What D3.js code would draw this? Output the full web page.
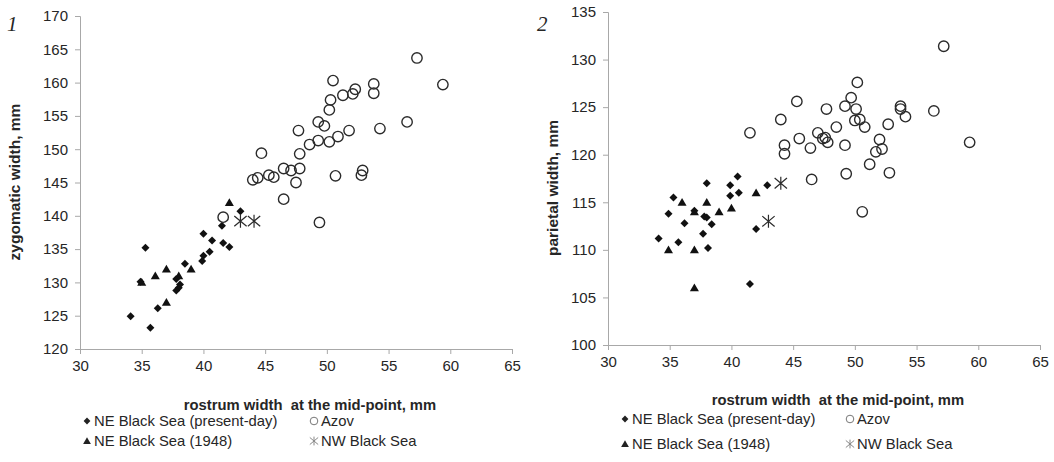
<!DOCTYPE html>
<meta charset="utf-8">
<title>Rostrum width scatter</title>
<style>
  body { margin: 0; background: #fff; }
  svg text { font-family: "Liberation Sans", Arial, sans-serif; fill: #262626; }
  .axis path, .axis line { stroke: #a8a8a8; }
  .num { font-family: "Liberation Serif", "Times New Roman", serif !important; font-style: italic; }
</style>
<svg id="chart"></svg>
<script src="https://cdn.jsdelivr.net/npm/d3@7"></script>
<script>
  var W = 1054, H = 462;

  // panel 1 : zygomatic width vs rostrum width
  var zygPresent = [[34.1,124.9],[35.7,123.2],[35.3,135.2],[36.3,126.1],[34.9,130.1],[37.8,130.5],[38.1,129.7],
    [38.0,129.2],[37.8,128.8],[38.5,132.8],[40.0,137.3],[40.0,134.0],[39.9,133.2],[40.5,134.6],[40.7,136.3],
    [41.6,135.9],[42.1,135.3],[41.5,138.5],[43.0,140.7]];
  var zyg1948 = [[35.0,130.0],[36.1,131.0],[37.0,132.0],[39.0,132.0],[38.0,131.0],[37.0,127.0],[42.1,142.0]];
  var zygAzov = [[41.6,139.8],[44.7,149.4],[44.0,145.4],[44.4,145.7],[45.3,146.1],[45.7,145.8],[57.3,163.7],
    [50.5,160.3],[59.4,159.7],[53.8,159.8],[52.3,159.0],[53.8,158.4],[52.1,158.3],[51.3,158.1],[50.3,157.4],
    [50.2,155.9],[49.3,154.1],[49.8,153.5],[47.7,152.8],[51.8,152.8],[54.3,153.1],[56.5,154.1],[50.9,151.9],
    [50.2,151.1],[49.3,151.3],[48.6,150.7],[47.8,149.3],[46.5,147.1],[47.1,146.8],[47.8,147.1],[47.5,145.0],
    [50.7,146.0],[52.9,146.8],[52.8,146.1],[46.5,142.5],[49.4,139.0]];
  var zygNW = [[43.0,139.2],[44.1,139.2]];

  // panel 2 : parietal width vs rostrum width
  var parPresent = [[34.1,111.2],[34.9,113.8],[35.3,115.5],[35.7,110.8],[36.2,112.8],[38.0,117.0],[37.7,111.7],
    [37.8,113.5],[38.0,113.4],[38.4,112.7],[38.1,110.2],[39.9,116.8],[39.9,115.7],[40.5,117.7],[40.6,116.0],
    [42.0,112.2],[42.9,116.8],[41.5,106.4],[37.0,114.1]];
  var par1948 = [[34.9,110.0],[36.0,115.0],[37.0,114.0],[37.0,110.0],[37.0,106.0],[38.0,115.0],[39.0,114.0],
    [40.0,114.4],[42.0,116.0]];
  var parAzov = [[44.0,123.7],[41.5,122.3],[44.3,121.0],[44.3,120.1],[57.2,131.4],[50.2,127.6],[45.3,125.6],
    [49.7,126.0],[49.2,125.1],[47.7,124.8],[50.1,124.8],[53.7,125.1],[53.7,124.8],[56.4,124.6],[54.1,124.0],
    [50.0,123.6],[50.4,123.7],[50.8,122.9],[52.7,123.2],[48.5,122.9],[47.0,122.3],[47.4,121.7],[47.6,121.8],
    [47.8,121.3],[45.5,121.7],[46.4,120.7],[49.2,121.0],[52.0,121.6],[52.2,120.6],[51.7,120.3],[51.2,119.0],
    [46.5,117.4],[49.3,118.0],[52.8,118.1],[59.3,121.3],[50.6,114.0]];
  var parNW = [[44.0,117.0],[43.0,113.0]];

  var xTicks = [30, 35, 40, 45, 50, 55, 60, 65];
  var zygTicks = [120, 125, 130, 135, 140, 145, 150, 155, 160, 165, 170];
  var parTicks = [100, 105, 110, 115, 120, 125, 130, 135];
  var seriesNames = ["NE Black Sea (present-day)", "Azov", "NE Black Sea (1948)", "NW Black Sea"];
  var xTitle = "rostrum width\u00a0 at the mid-point, mm";

  var svg = d3.select("#chart").attr("width", W).attr("height", H);

  // marker shapes
  function diamond(r) { return "M0," + (-r) + "L" + r + ",0L0," + r + "L" + (-r) + ",0Z"; }
  function triangle(r) { return "M0," + (-r) + "L" + (r * 1.05) + "," + (r * 0.8) + "L" + (-r * 1.05) + "," + (r * 0.8) + "Z"; }
  function asterisk(r) {
    var a = r * 0.95, b = r * 0.8;
    return "M0," + (-r) + "L0," + r + "M" + (-a) + "," + (-b) + "L" + a + "," + b + "M" + (-a) + "," + b + "L" + a + "," + (-b);
  }

  function drawMarks(g, data, x, y, kind) {
    var sel = g.append("g").selectAll("path").data(data).enter();
    if (kind == "circle") {
      sel.append("circle")
        .attr("cx", function(d) { return x(d[0]); })
        .attr("cy", function(d) { return y(d[1]); })
        .attr("r", 5.2)
        .attr("fill", "none").attr("stroke", "#2b2b2b").attr("stroke-width", 1.4);
      return;
    }
    var p = sel.append("path")
      .attr("transform", function(d) { return "translate(" + x(d[0]) + "," + y(d[1]) + ")"; });
    if (kind == "diamond") p.attr("d", diamond(4)).attr("fill", "#111");
    if (kind == "triangle") p.attr("d", triangle(4.3)).attr("fill", "#111");
    if (kind == "asterisk") p.attr("d", asterisk(6.5)).attr("fill", "none").attr("stroke", "#2b2b2b").attr("stroke-width", 1.2);
  }

  function legendMark(g, kind, cx, cy) {
    if (kind == "circle") {
      g.append("circle").attr("cx", cx).attr("cy", cy).attr("r", 3.8)
        .attr("fill", "none").attr("stroke", "#777").attr("stroke-width", 1);
      return;
    }
    var p = g.append("path").attr("transform", "translate(" + cx + "," + cy + ")");
    if (kind == "diamond") p.attr("d", diamond(3.4)).attr("fill", "#222");
    if (kind == "triangle") p.attr("d", triangle(3.7)).attr("fill", "#222");
    if (kind == "asterisk") p.attr("d", asterisk(4.4)).attr("fill", "none").attr("stroke", "#888").attr("stroke-width", 1);
  }

  function drawPanel(cfg) {
    var x = d3.scaleLinear().domain([30, 65]).range([cfg.left, cfg.right]);
    var y = d3.scaleLinear().domain(cfg.yDomain).range([cfg.bottom, cfg.top]);
    var g = svg.append("g");

    g.append("g").attr("class", "axis")
      .attr("transform", "translate(0," + cfg.bottom + ")")
      .call(d3.axisBottom(x).tickValues(xTicks).tickSize(5).tickPadding(6).tickSizeOuter(5))
      .call(function(a) { a.selectAll("text").attr("font-size", 15).attr("font-family", null); });

    g.append("g").attr("class", "axis")
      .attr("transform", "translate(" + cfg.left + ",0)")
      .call(d3.axisLeft(y).tickValues(cfg.yTicks).tickSize(5).tickPadding(7).tickSizeOuter(5))
      .call(function(a) { a.selectAll("text").attr("font-size", 15).attr("font-family", null); });

    drawMarks(g, cfg.present, x, y, "diamond");
    drawMarks(g, cfg.y1948, x, y, "triangle");
    drawMarks(g, cfg.azov, x, y, "circle");
    drawMarks(g, cfg.nw, x, y, "asterisk");

    // panel number
    g.append("text").attr("class", "num").attr("x", cfg.numX).attr("y", 31)
      .attr("font-size", 21).text(cfg.num);

    // axis titles
    g.append("text")
      .attr("transform", "translate(" + cfg.yTitleX + "," + cfg.yTitleY + ") rotate(-90)")
      .attr("text-anchor", "middle").attr("font-weight", "bold").attr("font-size", 15.5)
      .text(cfg.yTitle);
    g.append("text")
      .attr("x", cfg.xTitleX).attr("y", cfg.xTitleY)
      .attr("text-anchor", "middle").attr("font-weight", "bold").attr("font-size", 14.8)
      .text(xTitle);

    // legend
    var kinds = ["diamond", "circle", "triangle", "asterisk"];
    var lg = g.append("g");
    kinds.forEach(function(k, i) {
      var lx = cfg.legX + (i % 2) * cfg.legCol;
      var ly = cfg.legY + Math.floor(i / 2) * cfg.legRow;
      legendMark(lg, k, lx, ly);
      lg.append("text").attr("x", lx + 7).attr("y", ly + 5).attr("font-size", 14.8).text(seriesNames[i]);
    });
  }

  drawPanel({
    num: "1", numX: 7, left: 80, right: 512, top: 16, bottom: 349,
    yDomain: [120, 170], yTicks: zygTicks, yTitle: "zygomatic width, mm",
    present: zygPresent, y1948: zyg1948, azov: zygAzov, nw: zygNW,
    yTitleX: 20, yTitleY: 182, xTitleX: 310, xTitleY: 410,
    legX: 87, legY: 421, legCol: 227, legRow: 20
  });

  drawPanel({
    num: "2", numX: 537, left: 608, right: 1040, top: 12, bottom: 345,
    yDomain: [100, 135], yTicks: parTicks, yTitle: "parietal width, mm",
    present: parPresent, y1948: par1948, azov: parAzov, nw: parNW,
    yTitleX: 558, yTitleY: 188, xTitleX: 838, xTitleY: 405,
    legX: 625, legY: 419, legCol: 225, legRow: 25
  });
</script>
